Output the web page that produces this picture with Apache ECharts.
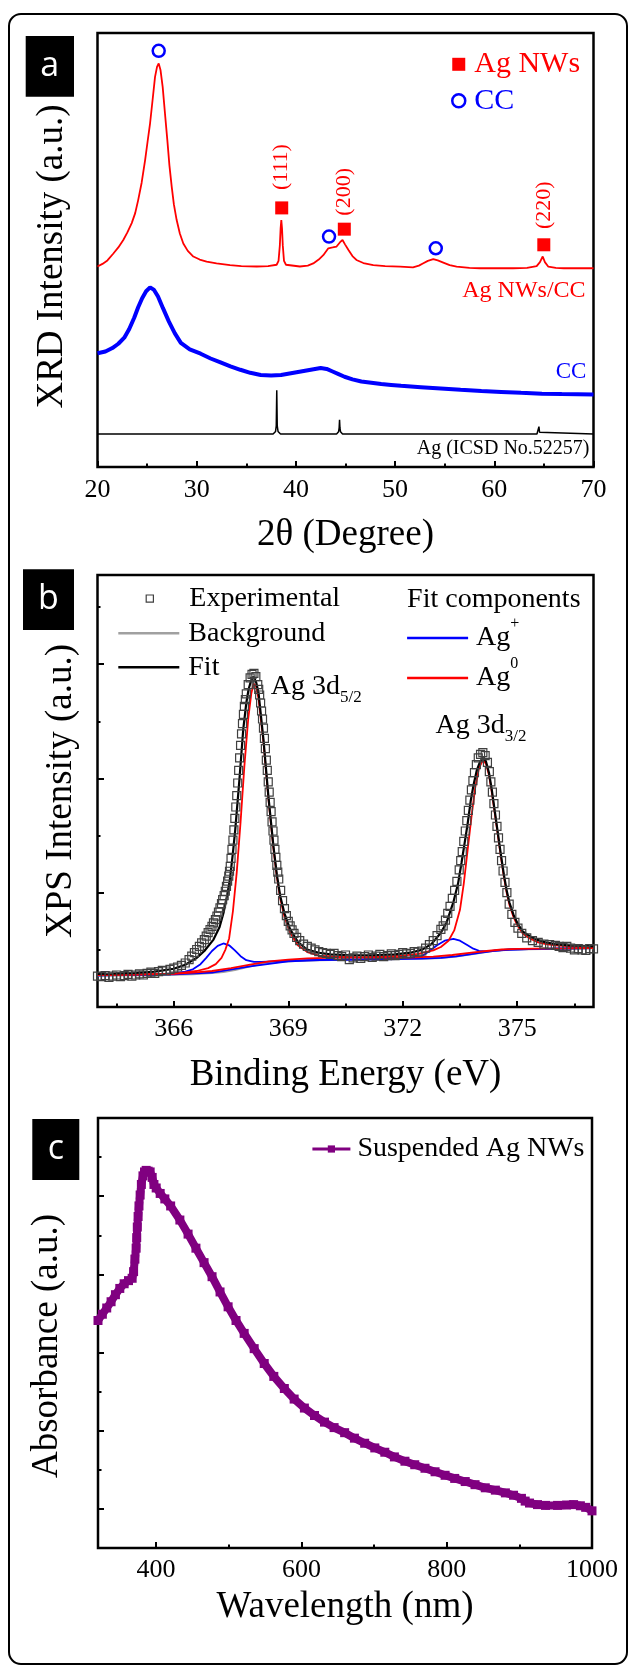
<!DOCTYPE html>
<html>
<head>
<meta charset="utf-8">
<script src="https://cdn.jsdelivr.net/npm/echarts@6/dist/echarts.min.js"></script>
<style>html,body{margin:0;padding:0;background:#fff;}</style>
</head>
<body>
<div id="main" style="width:629px;height:1666px;"></div>
<script>
// ---------- panel a : XRD ----------
var xrdAgCC = [[20.0,46.2],[20.5,46.8],[21.0,47.6],[21.6,49.2],[22.1,50.6],[22.6,52.3],[23.0,54.0],[23.45,56.2],[23.8,58.5],[24.1,61.5],[24.45,65.5],[24.8,70.7],[25.05,75],[25.3,79.2],[25.55,84.5],[25.8,89.9],[26.0,92.2],[26.17,93.0],[26.35,91.5],[26.57,87.6],[26.8,81.5],[27.04,75.3],[27.25,69.5],[27.48,64.6],[27.7,60.5],[27.98,56.9],[28.3,53.8],[28.65,51.5],[29.1,49.8],[29.66,48.5],[30.3,47.8],[31.0,47.3],[32.0,46.9],[33.36,46.5],[34.5,46.3],[36.05,46.2],[37.2,46.3],[38.06,46.6],[38.25,47.5],[38.38,51],[38.46,55],[38.53,56.9],[38.6,55],[38.68,51],[38.8,47.5],[39.0,46.6],[40.4,46.2],[41.2,46.4],[41.75,46.9],[42.3,47.8],[42.76,48.8],[43.27,50.4],[43.7,50.6],[44.1,50.8],[44.45,51.8],[44.7,52.3],[44.95,51.3],[45.3,50.0],[45.7,48.6],[46.1,47.7],[46.8,47.0],[47.8,46.5],[49.0,46.3],[50.5,46.15],[51.8,46.0],[52.4,46.4],[52.8,46.9],[53.3,47.5],[53.85,47.9],[54.3,47.6],[54.86,47.1],[55.5,46.5],[56.2,46.15],[57.5,45.9],[58.56,45.8],[60.2,45.8],[61.9,45.8],[63.3,45.9],[64.27,46.3],[64.6,47.2],[64.88,48.5],[65.1,47.2],[65.45,46.15],[66.2,45.9],[67.0,45.8],[68.5,45.8],[70.0,45.8]];
var xrdCC = [[20.0,26.2],[20.8,26.6],[21.5,27.4],[22.1,28.4],[22.7,29.8],[23.2,31.8],[23.7,34.4],[24.1,36.8],[24.5,38.9],[24.9,40.5],[25.3,41.4],[25.7,40.8],[26.1,39.3],[26.6,36.6],[27.2,33.5],[27.8,30.8],[28.4,28.6],[29.3,27.1],[30.4,26.1],[31.4,25.0],[32.4,24.1],[33.4,23.2],[34.4,22.4],[35.4,21.7],[36.45,21.2],[37.5,21.1],[38.5,21.2],[39.5,21.6],[40.5,22.0],[41.5,22.4],[42.5,22.8],[43.1,22.6],[43.7,22.0],[44.3,21.4],[44.9,20.8],[45.7,20.2],[46.6,19.7],[47.6,19.4],[48.6,19.1],[49.6,18.9],[50.6,18.7],[52.6,18.4],[54.6,18.1],[56.6,17.8],[58.7,17.5],[60.7,17.3],[62.7,17.1],[64.8,16.9],[66.8,16.8],[68.4,16.75],[70.0,16.7]];
var xrdAgRef = [[20,7.6],[37.7,7.6],[37.95,8.2],[38.02,9.5],[38.07,17.7],[38.12,9.5],[38.2,8.2],[38.45,7.6],[44.1,7.6],[44.3,8.1],[44.36,9.0],[44.4,10.9],[44.44,9.0],[44.5,8.1],[44.7,7.6],[64.3,7.6],[64.44,8.0],[64.5,9.3],[64.56,8.0],[64.7,7.6],[70,7.6]];
var agPeakMarks = [[38.57,59.7],[44.88,54.8],[64.99,51.2]];
var ccPeakMarks = [[26.17,95.9],[43.34,53.1],[54.1,50.4]];
var hklNames = ['(111)','(200)','(220)'];
var hklAnchors = [[38.57,69.1],[44.86,63.4],[65.0,60.3]];
var traceNames = ['Ag NWs/CC','CC','Ag (ICSD No.52257)'];
var traceAnchors = [[69.2,40.6],[69.28,22.0],[69.6,4.3]];

// ---------- panel b : XPS ----------
var xpsExperimental = [[364.0,27],[364.1,26.5],[364.2,27.5],[364.3,26],[364.4,27],[364.5,28],[364.6,26.5],[364.7,27.5],[364.8,28.5],[364.9,27],[365.0,28],[365.1,29],[365.2,28],[365.3,29.5],[365.4,30.5],[365.5,29.5],[365.6,31],[365.7,32],[365.8,31.5],[365.9,33],[366.0,34],[366.1,35],[366.2,36.5],[366.3,38.5],[366.4,41.5],[366.47,44.5],[366.54,47.5],[366.6,50.3],[366.67,53],[366.73,56.1],[366.8,59],[366.85,62],[366.9,65],[366.95,67.8],[367.0,70.5],[367.04,73.6],[367.09,76.5],[367.13,79.5],[367.17,83],[367.21,86.7],[367.25,90.5],[367.28,94],[367.32,97.5],[367.35,101.3],[367.38,105.5],[367.41,110.1],[367.44,114.5],[367.46,118.8],[367.48,123],[367.5,130],[367.525,138],[367.55,146],[367.575,155],[367.6,165],[367.625,175],[367.65,185],[367.675,196],[367.7,207],[367.725,218],[367.75,229],[367.775,239],[367.8,248],[367.825,256],[367.85,263],[367.875,269],[367.9,274],[367.95,282],[368.0,288],[368.05,291],[368.1,292],[368.15,289],[368.2,282],[368.225,278],[368.25,273],[368.275,266],[368.3,259],[368.325,252],[368.35,244],[368.375,235],[368.4,226],[368.425,216],[368.45,207],[368.475,197],[368.5,188],[368.525,179],[368.55,171],[368.575,162],[368.6,154],[368.625,146],[368.65,138],[368.675,131],[368.7,124],[368.725,118],[368.75,112],[368.8,102],[368.85,93],[368.9,86],[368.95,80],[369.0,75],[369.05,71],[369.1,67.5],[369.15,64.5],[369.22,61],[369.3,58],[369.4,55],[369.5,53],[369.6,51.5],[369.7,50],[369.8,48.5],[369.9,47.5],[370.0,47],[370.1,46],[370.2,47],[370.3,45],[370.4,44],[370.5,45.5],[370.6,41.5],[370.7,43],[370.8,44.5],[370.9,42.5],[371.0,44],[371.1,45.5],[371.2,43.5],[371.3,44.5],[371.4,46],[371.5,44],[371.6,45],[371.7,46.5],[371.8,45],[371.9,46],[372.0,47.5],[372.1,46.5],[372.2,47],[372.3,48.5],[372.4,48],[372.5,49],[372.6,51.5],[372.7,54.5],[372.8,58],[372.9,62.5],[373.0,68],[373.06,71],[373.12,76],[373.18,82],[373.24,88],[373.3,95],[373.36,102],[373.42,110],[373.48,120],[373.52,128],[373.56,136],[373.6,145],[373.64,154],[373.68,163],[373.72,172],[373.76,181],[373.8,190],[373.84,198],[373.88,205],[373.93,212],[373.98,218],[374.04,221],[374.1,222.5],[374.16,220],[374.22,214],[374.27,206],[374.31,197],[374.35,188],[374.39,178],[374.43,168],[374.47,158],[374.51,148],[374.55,138],[374.59,128],[374.63,119],[374.68,109],[374.73,100],[374.79,90],[374.86,81],[374.94,74],[375.02,69],[375.12,64.5],[375.25,60.5],[375.4,58],[375.55,56.5],[375.7,55],[375.85,54.5],[376.0,54],[376.1,53],[376.2,52],[376.3,53],[376.4,51.5],[376.5,50],[376.6,51],[376.7,50],[376.8,49.5],[376.9,51],[377.0,50.9]];
var xpsBackground = [[364.0,27.5],[365.0,27.8],[366.0,28.3],[366.5,28.8],[367.0,29.8],[367.3,30.8],[367.6,32.5],[367.9,34.8],[368.2,37.0],[368.5,38.6],[368.8,39.6],[369.2,40.4],[369.8,41.0],[370.5,41.4],[371.5,41.8],[372.5,42.3],[373.0,43.0],[373.4,44.3],[373.8,46.3],[374.1,47.8],[374.4,49.2],[374.8,50.2],[375.3,50.7],[376.0,51.1],[377.0,51.5]];
var xpsFit = [[364.0,29.0],[364.5,29.3],[365.0,29.8],[365.5,31.0],[366.0,33.5],[366.3,37],[366.6,43],[366.8,49],[367.04,59],[367.2,70],[367.3,82],[367.4,98],[367.47,111.5],[367.55,135],[367.61,155],[367.72,199],[367.82,243],[367.9,266],[367.96,278],[368.03,286],[368.09,289],[368.16,284],[368.22,275],[368.35,234],[368.48,184],[368.61,141],[368.7,116],[368.79,97],[368.9,82],[369.05,68],[369.25,57],[369.49,50.3],[369.8,47.5],[370.1,46],[370.6,45.3],[371.2,45.3],[371.8,46],[372.2,47.5],[372.5,50],[372.75,55],[373.0,65],[373.15,74],[373.33,92],[373.45,108],[373.54,126],[373.62,143],[373.7,160],[373.78,180],[373.86,195],[373.94,207],[374.02,214],[374.1,218],[374.18,215],[374.26,205],[374.33,191],[374.41,172],[374.49,153],[374.57,134],[374.65,116],[374.73,101],[374.8,91],[374.9,81],[375.01,73],[375.15,66],[375.33,62],[375.55,58.5],[375.75,56.5],[376.0,55],[376.38,54],[376.7,53.5],[377.0,53]];
var xpsAg0a = [[364.0,28],[365.0,28.3],[365.8,29],[366.2,29.8],[366.6,31.5],[366.9,34],[367.1,37.5],[367.25,43],[367.35,50],[367.45,60],[367.55,84],[367.65,118],[367.75,162],[367.85,211],[367.95,252],[368.03,274],[368.09,283],[368.15,281],[368.22,270],[368.35,232],[368.48,182],[368.61,139],[368.7,114],[368.79,95],[368.9,79],[369.05,65],[369.25,54],[369.5,48],[369.8,45],[370.2,44],[370.8,43.5],[371.5,43.2],[372.2,43.3],[372.8,44],[373.3,45.5],[373.8,47.5],[374.2,49],[374.6,50.3],[375.0,50.8],[375.6,51.1],[376.3,51.3],[377.0,51.6]];
var xpsAg0b = [[364.0,28],[366.0,29],[366.5,30],[367.0,31.5],[367.5,34],[368.0,37],[368.5,40],[369.0,41.5],[369.5,42.5],[370.0,43],[370.8,43.5],[371.5,44],[372.0,45],[372.4,46.5],[372.8,49.5],[373.0,52.5],[373.2,58],[373.35,67],[373.5,85],[373.6,108],[373.7,137],[373.8,166],[373.9,192],[374.0,209],[374.1,216],[374.18,213],[374.26,203],[374.33,189],[374.41,170],[374.49,151],[374.57,132],[374.65,114],[374.73,99],[374.8,89],[374.9,79],[375.01,71],[375.15,64],[375.33,60],[375.55,56.5],[375.75,55],[376.0,54],[376.38,53],[376.7,52.5],[377.0,52.3]];
var xpsAgPlusA = [[364.0,27.8],[365.5,28.3],[366.0,29.5],[366.3,31],[366.5,33],[366.7,37.5],[366.85,43],[367.0,49],[367.15,53.5],[367.3,55.6],[367.45,54],[367.6,49.5],[367.75,44.5],[367.9,41],[368.1,39.5],[368.3,39.5],[368.6,40],[369.0,40.5],[369.5,41],[370.5,41.5],[371.5,41.8],[372.5,42.3],[373.0,43],[373.4,44.3],[373.8,46.3],[374.1,47.8],[374.4,49.2],[374.8,50.2],[375.3,50.7],[376.0,51.1],[377.0,51.5]];
var xpsAgPlusB = [[364.0,27.8],[366.0,28.5],[367.0,30],[368.0,35.5],[369.0,40],[370.0,41.2],[371.0,41.7],[371.8,42.3],[372.2,43.5],[372.5,44.5],[372.7,49],[372.9,54],[373.1,58],[373.33,59.7],[373.5,58],[373.7,54],[373.85,51],[374.0,49.2],[374.2,48.6],[374.4,49.3],[374.8,50.3],[375.3,50.7],[376.0,51.1],[377.0,51.5]];
var xpsMajorTicks = [366, 369, 372, 375];
var xpsMinorTicks = [364.5, 367.5, 370.5, 373.5, 376.5];
var xpsPeakAnchors = [[368.54,280.6],[372.86,246.3]];
var xpsPeakNames = ['Ag 3d{sub|5/2}', 'Ag 3d{sub|3/2}'];

// ---------- panel c : UV-vis ----------
var uvVis = [[320,5.82],[326,5.98],[332,6.14],[338,6.3],[344,6.48],[350,6.64],[356,6.76],[362,6.84],[367,6.9],[369,7.07],[370.8,7.39],[372.5,7.67],[373.3,7.94],[374.1,8.21],[375.2,8.48],[376.4,8.75],[378.0,9.03],[379.7,9.3],[381.9,9.52],[384,9.62],[386.3,9.66],[389,9.64],[391.8,9.62],[394.6,9.48],[397,9.3],[400.1,9.21],[405.6,9.07],[412,8.93],[420,8.75],[432.7,8.39],[444,8.03],[454.8,7.67],[466,7.3],[477,6.94],[488,6.55],[499.1,6.17],[510,5.82],[521.2,5.49],[535,5.1],[548.8,4.72],[562,4.39],[576.5,4.08],[590,3.81],[604.1,3.58],[618,3.39],[631.8,3.22],[645,3.08],[659.5,2.95],[673,2.81],[687.1,2.68],[701,2.56],[714.8,2.45],[728,2.33],[742.5,2.22],[756,2.13],[770.1,2.04],[784,1.95],[797.8,1.86],[811,1.78],[825.5,1.70],[839,1.62],[853.1,1.54],[867,1.48],[880.8,1.41],[892,1.35],[902.9,1.27],[908,1.2],[914,1.15],[925,1.11],[936,1.09],[952.6,1.09],[965,1.1],[974.7,1.11],[984,1.08],[991.3,1.04],[1000,0.95]];
var uvMajorTicks = [400, 600, 800, 1000];
var uvMinorTicks = [500, 700, 900];
var uvYMajorTicks = [1, 3, 5, 7, 9];
var uvYMinorTicks = [2, 4, 6, 8, 10];

var serif = 'Liberation Serif';
var sans = 'Open Sans';
var tickLine = { color: '#000', width: 2 };
var gridBox = { show: true, borderColor: '#000', borderWidth: 2.5, backgroundColor: 'transparent' };
var plainNumber = function (v) { return String(v); };

function bareAxis(extra) {
    var ax = {
        type: 'value',
        axisLine: { show: false },
        splitLine: { show: false },
        axisTick: { show: false },
        axisLabel: { show: false },
        nameTextStyle: { fontSize: 37, color: '#000', fontFamily: serif }
    };
    for (var k in extra) ax[k] = extra[k];
    return ax;
}

// legend text goes through a rich token so the serif face is used
function legendRich(size, lh) {
    return {
        t: { fontSize: size, lineHeight: lh, fontFamily: serif },
        sup: { fontSize: 16, verticalAlign: 'top', fontFamily: serif, color: '#000' }
    };
}

var myChart = echarts.init(document.getElementById('main'), null, { renderer: 'canvas' });

var option = {
    animation: false,
    backgroundColor: '#fff',
    textStyle: { fontFamily: serif },
    grid: [
        Object.assign({ left: 97.5, top: 33, width: 496, height: 434 }, gridBox),
        Object.assign({ left: 97.5, top: 575, width: 496, height: 432 }, gridBox),
        Object.assign({ left: 98, top: 1118, width: 494, height: 430 }, gridBox)
    ],
    xAxis: [
        bareAxis({
            gridIndex: 0, min: 20, max: 70, interval: 10,
            axisTick: { show: true, inside: true, length: 6, lineStyle: tickLine },
            minorTick: { show: true, splitNumber: 2, length: 3.5, lineStyle: tickLine },
            axisLabel: { show: true, fontSize: 26, color: '#000', margin: 10, fontFamily: serif, formatter: plainNumber },
            name: '2θ (Degree)', nameLocation: 'middle', nameGap: 50
        }),
        bareAxis({
            gridIndex: 1, min: 364, max: 377, position: 'bottom',
            axisTick: { show: true, inside: true, length: 6, lineStyle: tickLine, customValues: xpsMajorTicks },
            axisLabel: { show: true, fontSize: 26, color: '#000', margin: 9, fontFamily: serif, customValues: xpsMajorTicks, formatter: plainNumber },
            name: 'Binding Energy (eV)', nameLocation: 'middle', nameGap: 50
        }),
        bareAxis({
            gridIndex: 1, min: 364, max: 377, position: 'bottom',
            axisTick: { show: true, inside: true, length: 3.5, lineStyle: tickLine, customValues: xpsMinorTicks }
        }),
        bareAxis({
            gridIndex: 2, min: 320, max: 1000, position: 'bottom',
            axisTick: { show: true, inside: true, length: 6, lineStyle: tickLine, customValues: uvMajorTicks },
            axisLabel: { show: true, fontSize: 26, color: '#000', margin: 9, fontFamily: serif, customValues: uvMajorTicks, formatter: plainNumber },
            name: 'Wavelength (nm)', nameLocation: 'middle', nameGap: 41
        }),
        bareAxis({
            gridIndex: 2, min: 320, max: 1000, position: 'bottom',
            axisTick: { show: true, inside: true, length: 3.5, lineStyle: tickLine, customValues: uvMinorTicks }
        })
    ],
    yAxis: [
        bareAxis({
            gridIndex: 0, min: 0, max: 100,
            name: 'XRD Intensity (a.u.)', nameLocation: 'middle', nameGap: 27,
            nameTextStyle: { fontSize: 37, color: '#000', fontFamily: serif, padding: [0, 13, 0, 0] }
        }),
        bareAxis({
            gridIndex: 1, min: 0, max: 378, interval: 100,
            axisTick: { show: true, inside: true, length: 6.5, lineStyle: tickLine },
            minorTick: { show: true, splitNumber: 2, length: 3, lineStyle: tickLine },
            name: 'XPS Intensity (a.u.)', nameLocation: 'middle', nameGap: 18
        }),
        bareAxis({
            gridIndex: 2, min: 0, max: 11,
            axisTick: { show: true, inside: true, length: 6, lineStyle: tickLine, customValues: uvYMajorTicks },
            name: 'Absorbance (a.u.)', nameLocation: 'middle', nameGap: 32,
            nameTextStyle: { fontSize: 37, color: '#000', fontFamily: serif, padding: [0, 26, 0, 0] }
        }),
        bareAxis({
            gridIndex: 2, min: 0, max: 11, position: 'left',
            axisTick: { show: true, inside: true, length: 3.5, lineStyle: tickLine, customValues: uvYMinorTicks }
        })
    ],
    legend: [
        {
            data: [
                { name: 'Ag NWs', textStyle: { color: '#ff0000', fontFamily: serif } },
                { name: 'CC', textStyle: { color: '#0000ff', fontFamily: serif }, itemStyle: { color: 'rgba(0,0,0,0)', borderColor: '#0000ff', borderWidth: 2.5 } }
            ],
            orient: 'vertical', left: 451, top: 46.3, padding: 0, itemGap: 0.4,
            itemWidth: 13, itemHeight: 13, selectedMode: false,
            formatter: '{t|{name}}',
            textStyle: { fontSize: 30, lineHeight: 36, fontFamily: serif, padding: [0, 0, 0, 4], rich: legendRich(30, 36) }
        },
        {
            data: [{ name: 'Experimental', itemStyle: { color: 'rgba(0,0,0,0)', borderColor: '#404040', borderWidth: 1.2 } }],
            orient: 'vertical', left: 118.3, top: 581.6, padding: 0,
            itemWidth: 61, itemHeight: 9, selectedMode: false,
            formatter: '{t|{name}}',
            textStyle: { fontSize: 28, lineHeight: 34, color: '#000', fontFamily: serif, padding: [0, 0, 0, 4], rich: legendRich(28, 34) }
        },
        {
            data: ['Background', 'Fit'], icon: 'rect',
            orient: 'vertical', left: 118.3, top: 616.2, padding: 0, itemGap: 0,
            itemWidth: 61, itemHeight: 2.5, selectedMode: false,
            formatter: '{t|{name}}',
            textStyle: { fontSize: 28, lineHeight: 34, color: '#000', fontFamily: serif, padding: [0, 0, 0, 4], rich: legendRich(28, 34) }
        },
        {
            data: ['Ag+', 'Ag0'], icon: 'rect',
            orient: 'vertical', left: 407.1, top: 615.9, padding: 0, itemGap: -4,
            itemWidth: 61, itemHeight: 2.5, selectedMode: false,
            formatter: function (name) { return name === 'Ag+' ? '{t|Ag}{sup|+}' : '{t|Ag}{sup|0}'; },
            textStyle: { fontSize: 28, lineHeight: 44, color: '#000', fontFamily: serif, padding: [0, 0, 0, 3], rich: legendRich(28, 44) }
        },
        {
            data: ['Suspended Ag NWs'],
            left: 310.9, top: 1132, padding: 0,
            itemWidth: 38, itemHeight: 9, selectedMode: false,
            lineStyle: { width: 3 },
            formatter: '{t|{name}}',
            textStyle: { fontSize: 28, lineHeight: 34, color: '#000', fontFamily: serif, padding: [0, 0, 0, 2], rich: legendRich(28, 34) }
        }
    ],
    graphic: [
        { type: 'rect', z: 0, shape: { x: 9, y: 14, width: 618, height: 1650, r: 12 }, style: { fill: 'none', stroke: '#000', lineWidth: 2 } },
        { type: 'rect', z: 10, shape: { x: 25.7, y: 36, width: 48.3, height: 60.7 }, style: { fill: '#000' } },
        { type: 'text', z: 11, x: 49.8, y: 66, style: { text: 'a', fill: '#fff', font: '34px "' + sans + '"', align: 'center', verticalAlign: 'middle', textAlign: 'center', textVerticalAlign: 'middle' } },
        { type: 'rect', z: 10, shape: { x: 23, y: 569.3, width: 51, height: 60.7 }, style: { fill: '#000' } },
        { type: 'text', z: 11, x: 48.5, y: 599, style: { text: 'b', fill: '#fff', font: '34px "' + sans + '"', align: 'center', verticalAlign: 'middle', textAlign: 'center', textVerticalAlign: 'middle' } },
        { type: 'rect', z: 10, shape: { x: 32.3, y: 1119, width: 47, height: 61 }, style: { fill: '#000' } },
        { type: 'text', z: 11, x: 55.8, y: 1149, style: { text: 'c', fill: '#fff', font: '34px "' + sans + '"', align: 'center', verticalAlign: 'middle', textAlign: 'center', textVerticalAlign: 'middle' } },
        { type: 'text', z: 11, x: 407.1, y: 599.3, style: { text: 'Fit components', fill: '#000', font: '28px "' + serif + '"', align: 'left', verticalAlign: 'middle', textAlign: 'left', textVerticalAlign: 'middle' } }
    ],
    series: [
        // panel a
        { name: 'Ag NWs/CC trace', type: 'line', xAxisIndex: 0, yAxisIndex: 0, data: xrdAgCC, showSymbol: false, lineStyle: { color: '#ff0000', width: 1.8 }, itemStyle: { color: '#ff0000' }, silent: true },
        { name: 'CC trace', type: 'line', xAxisIndex: 0, yAxisIndex: 0, data: xrdCC, showSymbol: false, lineStyle: { color: '#0000ff', width: 4 }, itemStyle: { color: '#0000ff' }, silent: true },
        { name: 'Ag reference', type: 'line', xAxisIndex: 0, yAxisIndex: 0, data: xrdAgRef, showSymbol: false, lineStyle: { color: '#000', width: 1.5 }, itemStyle: { color: '#000' }, silent: true },
        { name: 'Ag NWs', type: 'scatter', xAxisIndex: 0, yAxisIndex: 0, data: agPeakMarks, symbol: 'rect', symbolSize: 13, itemStyle: { color: '#ff0000', opacity: 1 }, silent: true },
        { name: 'CC', type: 'scatter', xAxisIndex: 0, yAxisIndex: 0, data: ccPeakMarks, symbol: 'circle', symbolSize: 12, itemStyle: { color: 'rgba(0,0,0,0)', borderColor: '#0000ff', borderWidth: 2.5, opacity: 1 }, silent: true },
        {
            name: 'hkl', type: 'scatter', xAxisIndex: 0, yAxisIndex: 0, symbolSize: 0, silent: true, itemStyle: { opacity: 1 },
            data: hklAnchors.map(function (p, i) { return { value: p, label: { formatter: hklNames[i] } }; }),
            label: { show: true, position: 'inside', rotate: 90, fontSize: 22, color: '#ff0000', fontFamily: serif }
        },
        {
            name: 'trace names', type: 'scatter', xAxisIndex: 0, yAxisIndex: 0, symbolSize: 0, silent: true, itemStyle: { opacity: 1 },
            data: [
                { value: traceAnchors[0], label: { formatter: traceNames[0], color: '#ff0000', fontSize: 24 } },
                { value: traceAnchors[1], label: { formatter: traceNames[1], color: '#0000ff', fontSize: 23 } },
                { value: traceAnchors[2], label: { formatter: traceNames[2], color: '#000', fontSize: 20 } }
            ],
            label: { show: true, position: 'left', distance: 0, fontFamily: serif }
        },
        // panel b
        { name: 'Experimental', type: 'line', xAxisIndex: 1, yAxisIndex: 1, data: xpsExperimental, symbol: 'rect', symbolSize: 8, showSymbol: true, showAllSymbol: true, lineStyle: { opacity: 0 }, itemStyle: { color: 'rgba(0,0,0,0)', borderColor: '#404040', borderWidth: 1.2 }, silent: true },
        { name: 'Background', type: 'line', xAxisIndex: 1, yAxisIndex: 1, data: xpsBackground, showSymbol: false, lineStyle: { color: '#a0a0a0', width: 2.2 }, itemStyle: { color: '#a0a0a0' }, silent: true },
        { name: 'Ag+', type: 'line', xAxisIndex: 1, yAxisIndex: 1, data: xpsAgPlusA, showSymbol: false, lineStyle: { color: '#0000ff', width: 1.8 }, itemStyle: { color: '#0000ff' }, silent: true },
        { name: 'Ag+', type: 'line', xAxisIndex: 1, yAxisIndex: 1, data: xpsAgPlusB, showSymbol: false, lineStyle: { color: '#0000ff', width: 1.8 }, itemStyle: { color: '#0000ff' }, silent: true },
        { name: 'Ag0', type: 'line', xAxisIndex: 1, yAxisIndex: 1, data: xpsAg0a, showSymbol: false, lineStyle: { color: '#ff0000', width: 1.8 }, itemStyle: { color: '#ff0000' }, silent: true },
        { name: 'Ag0', type: 'line', xAxisIndex: 1, yAxisIndex: 1, data: xpsAg0b, showSymbol: false, lineStyle: { color: '#ff0000', width: 1.8 }, itemStyle: { color: '#ff0000' }, silent: true },
        { name: 'Fit', type: 'line', xAxisIndex: 1, yAxisIndex: 1, data: xpsFit, showSymbol: false, lineStyle: { color: '#000', width: 2.2 }, itemStyle: { color: '#000' }, silent: true },
        {
            name: 'peak names', type: 'scatter', xAxisIndex: 1, yAxisIndex: 1, symbolSize: 0, silent: true, itemStyle: { opacity: 1 },
            data: xpsPeakAnchors.map(function (p, i) { return { value: p, label: { formatter: xpsPeakNames[i] } }; }),
            label: {
                show: true, position: 'right', distance: 0, fontSize: 28, lineHeight: 40, color: '#000', fontFamily: serif,
                rich: { sub: { fontSize: 17, verticalAlign: 'bottom', color: '#000', fontFamily: serif } }
            }
        },
        // panel c
        { name: 'Suspended Ag NWs', type: 'line', xAxisIndex: 3, yAxisIndex: 2, data: uvVis, symbol: 'rect', symbolSize: 9, showSymbol: true, showAllSymbol: true, lineStyle: { color: '#800080', width: 8 }, itemStyle: { color: '#800080' }, silent: true }
    ]
};

myChart.setOption(option);
</script>
</body>
</html>
